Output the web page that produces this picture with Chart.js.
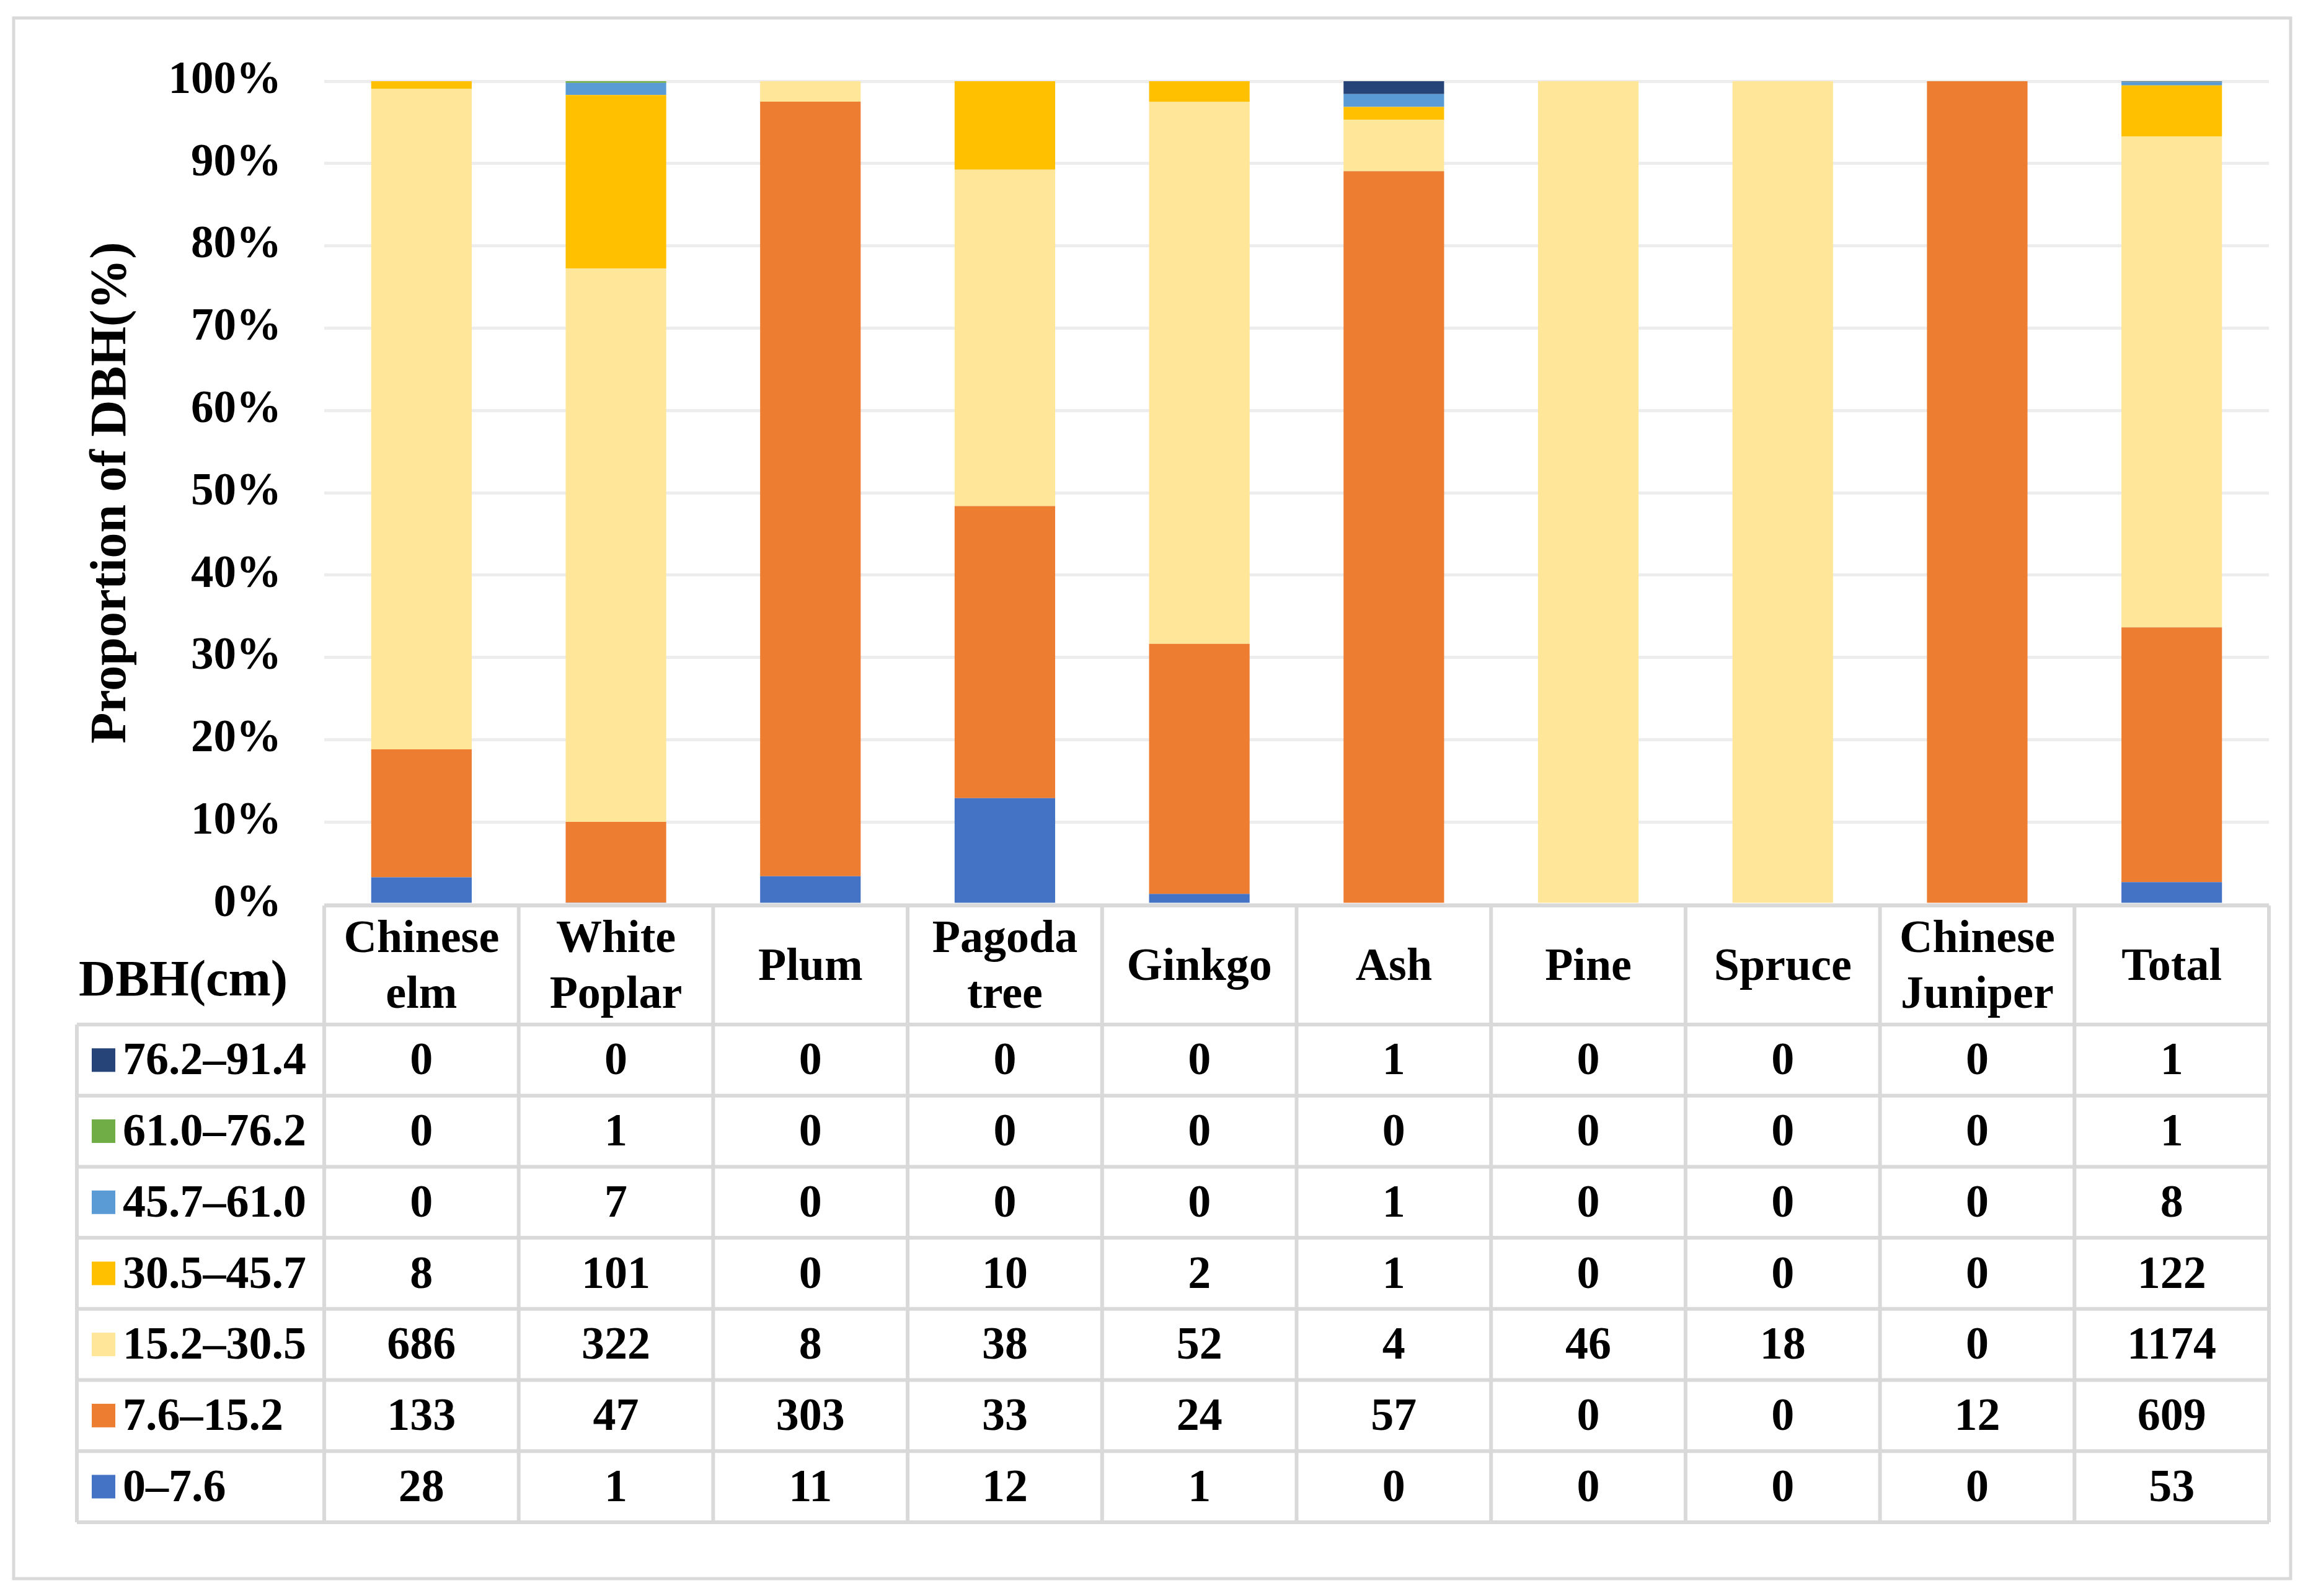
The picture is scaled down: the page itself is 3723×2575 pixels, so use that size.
<!DOCTYPE html>
<html>
<head>
<meta charset="utf-8">
<script src="https://cdn.jsdelivr.net/npm/chart.js@4.4.0/dist/chart.umd.min.js"></script>
<style>
html, body { margin: 0; padding: 0; background: #fff; }
#wrap { width: 3723px; height: 2575px; }
</style>
</head>
<body>
<div id="wrap"><canvas id="myChart" width="3723" height="2575"></canvas></div>
<script>
// tree species (header lines) and DBH classes
var species = [['Chinese', 'elm'], ['White', 'Poplar'], ['Plum'], ['Pagoda', 'tree'], ['Ginkgo'],
               ['Ash'], ['Pine'], ['Spruce'], ['Chinese', 'Juniper'], ['Total']];
var classes = ['0–7.6', '7.6–15.2', '15.2–30.5', '30.5–45.7', '45.7–61.0', '61.0–76.2', '76.2–91.4'];

// counts per DBH class, one value per species
var c0_7   = [28, 1, 11, 12, 1, 0, 0, 0, 0, 53];
var c7_15  = [133, 47, 303, 33, 24, 57, 0, 0, 12, 609];
var c15_30 = [686, 322, 8, 38, 52, 4, 46, 18, 0, 1174];
var c30_45 = [8, 101, 0, 10, 2, 1, 0, 0, 0, 122];
var c45_61 = [0, 7, 0, 0, 0, 1, 0, 0, 0, 8];
var c61_76 = [0, 1, 0, 0, 0, 0, 0, 0, 0, 1];
var c76_91 = [0, 0, 0, 0, 0, 1, 0, 0, 0, 1];

var colores = ['#4472C4', '#ED7D31', '#FFE699', '#FFC000', '#5B9BD5', '#70AD47', '#264478'];
var series = [c0_7, c7_15, c15_30, c30_45, c45_61, c61_76, c76_91];

var totales = [];
for (var j = 0; j < species.length; j++) {
    var s = 0;
    for (var k = 0; k < series.length; k++) s += series[k][j];
    totales[j] = s;
}

var datasets = [];
for (var k = 0; k < series.length; k++) {
    datasets.push({
        label: classes[k],
        data: series[k].map(function (v, j) { return v / totales[j] * 100; }),
        backgroundColor: colores[k],
        borderWidth: 0,
        barPercentage: 0.517,
        categoryPercentage: 1
    });
}

var FONT = '"Liberation Serif", "Times New Roman", serif';

// white background + outer frame
var framePlugin = {
    id: 'frame',
    beforeDraw: function (chart) {
        var ctx = chart.ctx;
        ctx.save();
        ctx.fillStyle = '#fff';
        ctx.fillRect(0, 0, chart.width, chart.height);
        ctx.strokeStyle = '#D9D9D9';
        ctx.lineWidth = 5;
        ctx.strokeRect(22, 29, 3673, 2518);
        ctx.restore();
    }
};

// data table under the bars
var tablePlugin = {
    id: 'dataTable',
    afterDraw: function (chart) {
        var ctx = chart.ctx;
        var xs = chart.scales.x;
        var area = chart.chartArea;
        var n = species.length;
        var colW = (area.right - area.left) / n;
        var top = area.bottom + 2;
        var headH = 192;
        var rowH = 114.7;
        var legL = 124;
        var nRows = classes.length;
        var bottom = top + headH + nRows * rowH;

        ctx.save();
        ctx.strokeStyle = '#D9D9D9';
        ctx.lineWidth = 6;
        ctx.beginPath();
        // header top line
        ctx.moveTo(area.left, top); ctx.lineTo(area.right, top);
        // row lines
        for (var r = 0; r <= nRows; r++) {
            var y = top + headH + r * rowH;
            ctx.moveTo(legL, y); ctx.lineTo(area.right, y);
        }
        // verticals
        ctx.moveTo(legL, top + headH); ctx.lineTo(legL, bottom);
        for (var i = 0; i <= n; i++) {
            var x = area.left + i * colW;
            ctx.moveTo(x, top); ctx.lineTo(x, bottom);
        }
        ctx.stroke();

        ctx.fillStyle = '#000';
        ctx.textBaseline = 'middle';

        // corner label
        ctx.font = 'bold 82px ' + FONT;
        ctx.textAlign = 'left';
        ctx.fillText('DBH(cm)', 127, top + 124);

        // headers
        ctx.font = 'bold 74px ' + FONT;
        ctx.textAlign = 'center';
        for (var i = 0; i < n; i++) {
            var cx = xs.getPixelForValue(i);
            var lines = species[i];
            var lh = 90;
            var y0 = top + headH / 2 + 5 - (lines.length - 1) * lh / 2;
            for (var l = 0; l < lines.length; l++) {
                ctx.fillText(lines[l], cx, y0 + l * lh);
            }
        }

        // rows (largest class on top)
        for (var r = 0; r < nRows; r++) {
            var k = nRows - 1 - r;
            var cy = top + headH + r * rowH + rowH / 2;
            ctx.fillStyle = colores[k];
            ctx.fillRect(148, cy - 19, 38, 38);
            ctx.fillStyle = '#000';
            ctx.textAlign = 'left';
            ctx.fillText(classes[k], 198, cy + 4);
            ctx.textAlign = 'center';
            for (var i = 0; i < n; i++) {
                ctx.fillText(String(series[k][i]), xs.getPixelForValue(i), cy + 4);
            }
        }
        ctx.restore();
    }
};

var ctx = document.getElementById('myChart').getContext('2d');
var myChart = new Chart(ctx, {
    type: 'bar',
    data: {
        labels: species.map(function (s) { return s.join(' '); }),
        datasets: datasets
    },
    options: {
        responsive: false,
        animation: false,
        devicePixelRatio: 1,
        layout: { padding: { top: 131, right: 63, left: 0, bottom: 0 } },
        plugins: {
            legend: { display: false },
            tooltip: { enabled: false }
        },
        scales: {
            x: {
                stacked: true,
                grid: { display: false },
                border: { display: false },
                ticks: { display: false },
                afterFit: function (scale) { scale.height = 2575 - 1459; }
            },
            y: {
                stacked: true,
                min: 0,
                max: 100,
                afterFit: function (scale) { scale.width = 523; },
                grid: { color: '#EDEDED', lineWidth: 5, drawTicks: false },
                border: { display: false },
                ticks: {
                    stepSize: 10,
                    padding: 69,
                    color: '#000',
                    font: { family: FONT, size: 73, weight: 'bold' },
                    callback: function (v) { return v + '%'; }
                },
                title: {
                    display: true,
                    text: 'Proportion of DBH(%)',
                    color: '#000',
                    font: { family: FONT, size: 82, weight: 'bold' },
                    padding: { top: 132, bottom: 0 }
                }
            }
        }
    },
    plugins: [framePlugin, tablePlugin]
});
</script>
</body>
</html>
